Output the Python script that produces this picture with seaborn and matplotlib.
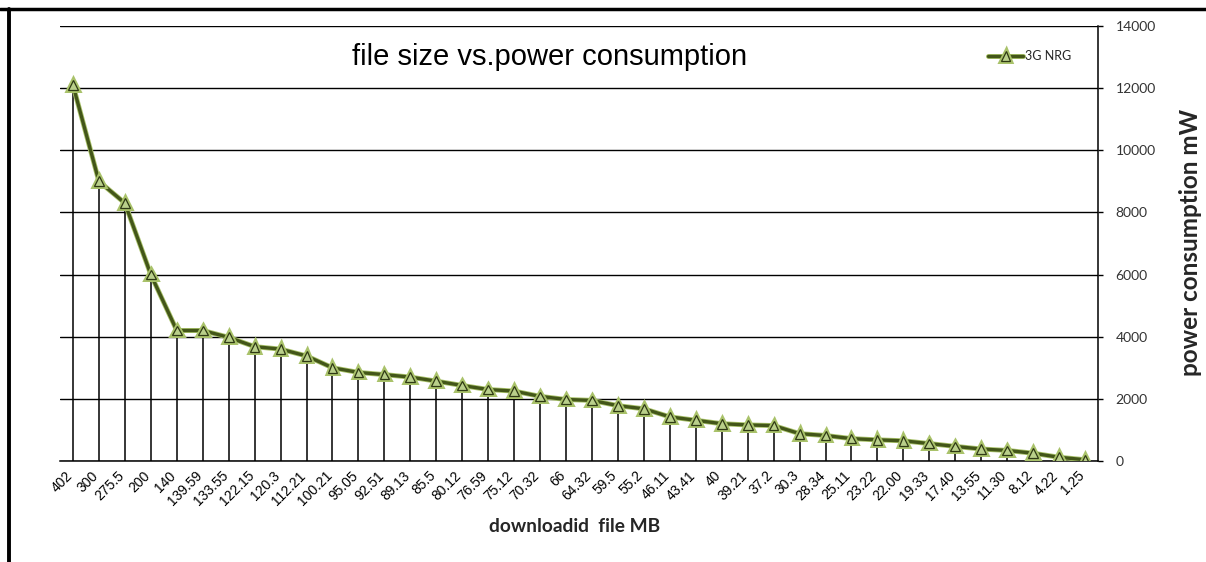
import matplotlib
matplotlib.use("Agg")
import matplotlib.pyplot as plt
import matplotlib.patheffects as pe
from matplotlib.lines import Line2D
import seaborn as sns
import pandas as pd

# ---- data ----
file_sizes = ["402", "300", "275.5", "200", "140", "139.59", "133.55", "122.15", "120.3",
              "112.21", "100.21", "95.05", "92.51", "89.13", "85.5", "80.12", "76.59",
              "75.12", "70.32", "66", "64.32", "59.5", "55.2", "46.11", "43.41", "40",
              "39.21", "37.2", "30.3", "28.34", "25.11", "23.22", "22.00", "19.33", "17.40",
              "13.55", "11.30", "8.12", "4.22", "1.25"]
power_mw = [12100, 9000, 8300, 6000, 4200, 4200, 3980, 3680, 3600, 3380, 3000, 2850,
            2780, 2700, 2570, 2430, 2300, 2250, 2080, 1980, 1950, 1780, 1680, 1420,
            1310, 1200, 1160, 1140, 880, 820, 720, 680, 650, 560, 470, 385, 340, 250,
            120, 40]
series_name = "3G NRG"
y_ticks = [0, 2000, 4000, 6000, 8000, 10000, 12000, 14000]

df = pd.DataFrame({"size": file_sizes, "power": power_mw})

sns.set_theme(style="white")
plt.rcParams["font.family"] = ["Liberation Sans", "DejaVu Sans"]

W, H = 1206, 562
fig = plt.figure(figsize=(W / 100, H / 100), dpi=100)
ax_l, ax_r, ax_t, ax_b = 60, 1098, 26, 461
ax = fig.add_axes([ax_l / W, 1 - ax_b / H, (ax_r - ax_l) / W, (ax_b - ax_t) / H])

line_color = "#435619"
sns.pointplot(data=df, x="size", y="power", order=file_sizes, color=line_color,
              markers="^", linestyles="-", ax=ax, errorbar=None)

ln = ax.lines[0]
ln.set_linewidth(2.4)
ln.set_markersize(7)
ln.set_markerfacecolor("#b9cf8a")
ln.set_markeredgecolor("#2f3a14")
ln.set_markeredgewidth(0.9)
ln.set_zorder(5)
ln.set_path_effects([pe.Stroke(linewidth=3.6, foreground="#a9c26a"), pe.Normal()])

# drop lines
ax.vlines(range(len(power_mw)), 0, power_mw, colors="black", linewidth=1.1, zorder=2)

ax.set_xlim(-0.5, len(file_sizes) - 0.5)
ax.set_ylim(0, 14000)
ax.set_yticks(y_ticks)
ax.set_yticklabels([str(v) for v in y_ticks])
for v in y_ticks:
    ax.axhline(v, color="black", linewidth=1.0, zorder=1)

ax.yaxis.tick_right()
ax.yaxis.set_label_position("right")
ax.tick_params(axis="y", which="both", right=True, left=False, direction="out",
               length=3.5, width=1, color="black", pad=9, labelsize=10, labelcolor="#333333")
for lab in ax.get_yticklabels():
    lab.set_fontfamily(["Lato", "DejaVu Sans"])
ax.tick_params(axis="x", length=0, pad=11, labelsize=10, labelcolor="black")
for lab in ax.get_xticklabels():
    lab.set_rotation(45)
    lab.set_ha("right")
    lab.set_va("baseline")
    lab.set_rotation_mode("anchor")

for s in ["left", "top"]:
    ax.spines[s].set_visible(False)
for s in ["right", "bottom"]:
    ax.spines[s].set_visible(True)
    ax.spines[s].set_color("black")
    ax.spines[s].set_linewidth(1.1)

ax.set_xlabel("")
ax.set_ylabel("")
fig.text(575 / W, 1 - 527 / H, "downloadid  file MB", ha="center", va="center",
         fontsize=13.8, fontweight="bold", family=["Lato", "DejaVu Sans"])
fig.text(1190 / W, 1 - 242 / H, "power consumption mW", ha="center", va="center",
         rotation=90, fontsize=17.5, fontweight="bold", family=["Lato", "DejaVu Sans"])
fig.text(550 / W, 1 - 57 / H, "file size vs.power consumption", ha="center", va="center",
         fontsize=21, color="black")

ax.legend([ln], [series_name], loc="center right", bbox_to_anchor=(0.985, 0.931),
          frameon=False, handlelength=2.8, handletextpad=0.15,
          prop={"family": ["Lato", "DejaVu Sans"], "size": 9})

# page border (top and left)
fig.add_artist(Line2D([0, 1], [1 - 8.5 / H, 1 - 8.5 / H], transform=fig.transFigure,
                      color="black", linewidth=2.5))
fig.add_artist(Line2D([8.5 / W, 8.5 / W], [0, 1 - 8.5 / H], transform=fig.transFigure,
                      color="black", linewidth=2.8))

fig.savefig("out.png", dpi=100, facecolor="white")
